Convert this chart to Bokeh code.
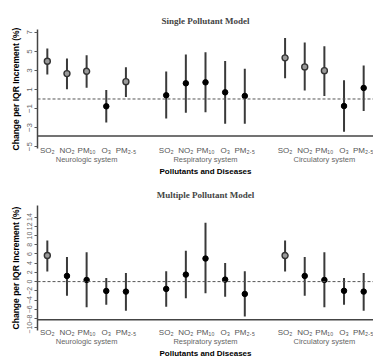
from bokeh.plotting import figure
from bokeh.models import FactorRange, Span, ColumnDataSource, FixedTicker, Range1d, Spacer
from bokeh.layouts import column
from bokeh.embed import file_html
from bokeh.resources import INLINE

groups = ["Neurologic system", "Respiratory system", "Circulatory system"]
pollutants = ["SO\u2082", "NO\u2082", "PM\u2081\u2080", "O\u2083", "PM\u2082.\u2085"]

# Single pollutant model
single_est = [3.96, 2.67, 2.91, -0.77, 1.82, 0.39, 1.65, 1.75, 0.70, 0.32, 4.32, 3.37, 2.98, -0.74, 1.16]
single_lo = [2.56, 1.02, 1.19, -2.46, 0.21, -2.04, -1.44, -1.40, -2.60, -2.60, 2.18, 0.88, 0.32, -3.44, -1.26]
single_hi = [5.30, 4.25, 4.60, 0.95, 3.33, 2.88, 4.67, 4.91, 4.00, 3.19, 6.42, 5.93, 5.54, 1.96, 3.51]
single_open = [1, 1, 1, 0, 1, 0, 0, 0, 0, 0, 1, 1, 1, 0, 0]
single_ticks = [-5, -3, -1, 1, 3, 5, 7]

# Multiple pollutant model
multi_est = [5.65, 1.23, 0.36, -2.03, -2.17, -1.59, 1.52, 5.00, 0.43, -2.68, 5.65, 1.23, 0.36, -2.00, -2.17]
multi_lo = [2.17, -3.04, -5.58, -5.00, -6.30, -5.43, -3.62, -2.54, -3.26, -7.54, 2.17, -3.04, -5.58, -5.00, -6.30]
multi_hi = [8.91, 5.36, 6.38, 0.80, 1.88, 2.25, 6.67, 12.75, 4.06, 2.25, 8.91, 5.36, 6.38, 0.80, 1.88]
multi_open = [1, 0, 0, 0, 0, 0, 0, 0, 0, 0, 1, 0, 0, 0, 0]
multi_ticks = [-10, -8, -6, -4, -2, 0, 2, 4, 6, 8, 10, 12, 14]

factors = [(g, s) for g in groups for s in pollutants]

SANS = "Liberation Sans"


def make_panel(title, est, lo, hi, is_open, ticks, y0, y1, base, frame_h,
               title_standoff, border_bottom, label_standoff, ytick_size):
    p = figure(
        x_range=FactorRange(*factors, group_padding=1.05, range_padding=0),
        y_range=Range1d(y0, y1),
        frame_width=336, frame_height=frame_h,
        min_border_left=37, min_border_right=0, min_border_top=0,
        min_border_bottom=border_bottom,
        output_backend="svg", toolbar_location=None, title=title,
    )
    p.title.text_font = "Liberation Serif"
    p.title.text_font_size = "9px"
    p.title.text_font_style = "bold"
    p.title.align = "center"
    p.title.standoff = title_standoff
    p.outline_line_color = None
    p.xgrid.visible = False
    p.ygrid.visible = False

    src = ColumnDataSource(dict(x=factors, est=est, lo=lo, hi=hi))
    p.segment(x0="x", y0="lo", x1="x", y1="hi", source=src, line_color="#3a3a3a", line_width=2)

    ox = [f for f, o in zip(factors, is_open) if o]
    oy = [e for e, o in zip(est, is_open) if o]
    fx = [f for f, o in zip(factors, is_open) if not o]
    fy = [e for e, o in zip(est, is_open) if not o]
    p.scatter(x=fx, y=fy, size=5.5, fill_color="black", line_color="black")
    p.scatter(x=ox, y=oy, size=6, fill_color="#9a9a9a", line_color="#333333", line_width=1.4)

    p.add_layout(Span(location=0, dimension="width", line_color="#555555",
                      line_dash="3 2", line_width=1))
    p.add_layout(Span(location=base, dimension="width", line_color="#444444", line_width=1.5))

    ya = p.yaxis[0]
    ya.ticker = FixedTicker(ticks=ticks)
    ya.major_label_orientation = "vertical"
    ya.major_label_text_font = SANS
    ya.major_label_text_font_size = ytick_size
    ya.major_label_text_color = "#666666"
    ya.major_label_standoff = 2
    ya.major_tick_out = 3
    ya.major_tick_in = 0
    ya.major_tick_line_color = "#555555"
    ya.minor_tick_out = 0
    ya.minor_tick_in = 0
    ya.axis_line_color = "#444444"
    ya.axis_line_width = 1.5
    ya.axis_label = "Change per IQR Increment (%)"
    ya.axis_label_text_font = SANS
    ya.axis_label_text_font_size = "8.5px"
    ya.axis_label_text_font_style = "bold"
    ya.axis_label_text_color = "black"
    ya.axis_label_standoff = 4

    xa = p.xaxis[0]
    xa.axis_line_color = None
    xa.major_tick_line_color = None
    xa.major_tick_out = 0
    xa.major_tick_in = 0
    xa.minor_tick_line_color = None
    xa.separator_line_color = None
    xa.major_label_standoff = label_standoff
    xa.major_label_text_font = SANS
    xa.major_label_text_font_size = "8px"
    xa.major_label_text_color = "#555555"
    xa.group_text_font = SANS
    xa.group_text_font_size = "7.5px"
    xa.group_text_font_style = "normal"
    xa.group_text_color = "#666666"
    xa.axis_label = "Pollutants and Diseases"
    xa.axis_label_text_font = SANS
    xa.axis_label_text_font_size = "8px"
    xa.axis_label_text_font_style = "bold"
    xa.axis_label_text_color = "black"
    xa.axis_label_standoff = 0
    return p


p1 = make_panel("Single Pollutant Model", single_est, single_lo, single_hi, single_open,
                single_ticks, -5.2, 7.3, -3.9, 119, 8, 26, -3, "8px")
p2 = make_panel("Multiple Pollutant Model", multi_est, multi_lo, multi_hi, multi_open,
                multi_ticks, -10.6, 16.5, -8.26, 125, 12, 26, -3, "7px")

layout = column(Spacer(height=9), p1, Spacer(height=3), p2, spacing=0)
open("out.html", "w").write(file_html(layout, INLINE))
